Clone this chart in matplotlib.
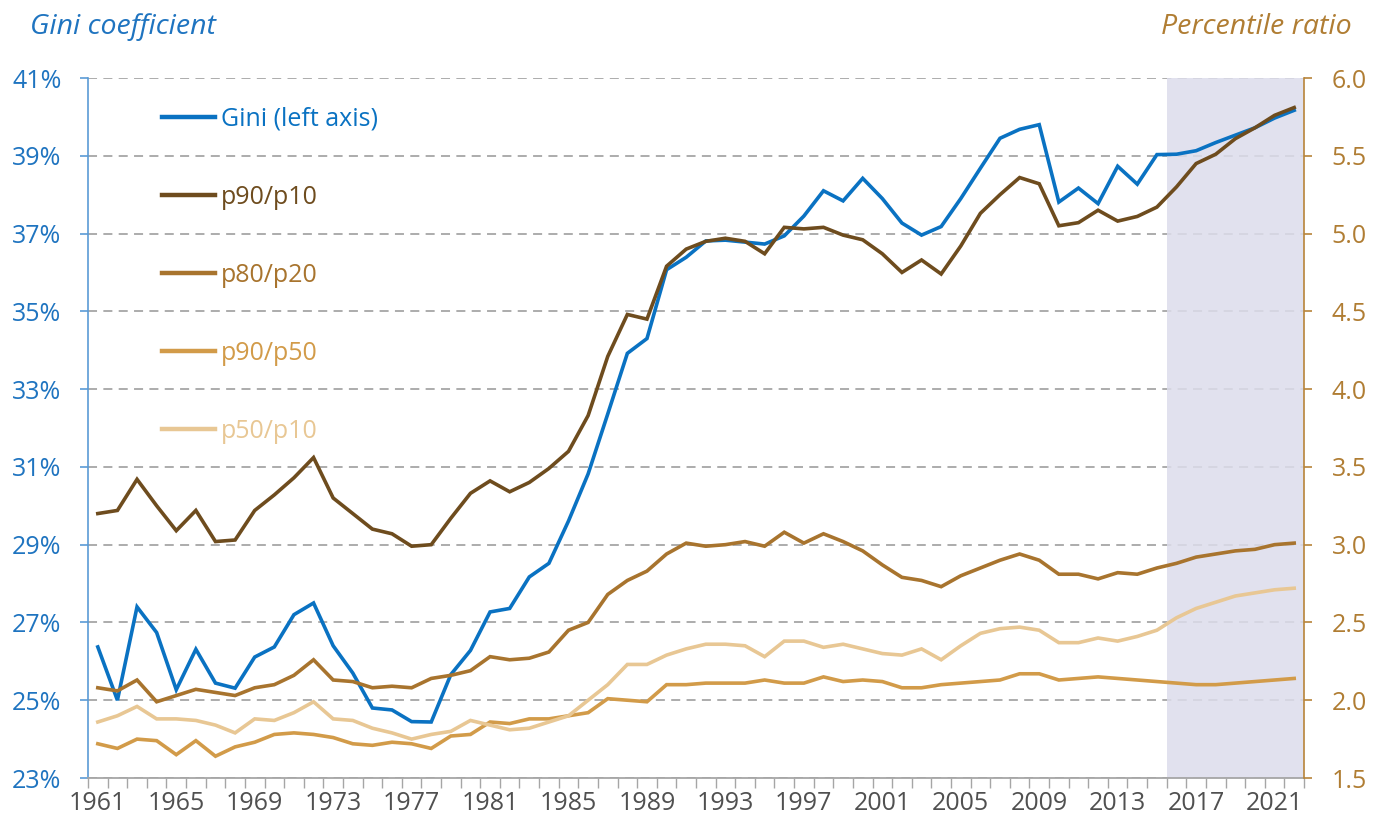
import matplotlib
matplotlib.use("Agg")
import matplotlib.pyplot as plt
from matplotlib.lines import Line2D
from matplotlib.ticker import FixedLocator, FuncFormatter

plt.rcParams["font.family"] = ["Open Sans", "DejaVu Sans"]

years = list(range(1961, 2023))

gini = [
    26.37, 25.00, 27.40, 26.74, 25.27, 26.31, 25.44, 25.31, 26.11, 26.37,
    27.20, 27.50, 26.40, 25.70, 24.80, 24.75, 24.45, 24.44, 25.66, 26.28,
    27.27, 27.36, 28.17, 28.52, 29.61, 30.82, 32.36, 33.92, 34.30, 36.07,
    36.39, 36.81, 36.83, 36.78, 36.73, 36.94, 37.45, 38.10, 37.84, 38.42,
    37.90, 37.27, 36.96, 37.18, 37.90, 38.68, 39.45, 39.68, 39.80, 37.81,
    38.17, 37.77, 38.73, 38.27, 39.03, 39.04, 39.13, 39.34, 39.53, 39.72,
    39.97, 40.17,
]

p90_p10 = [
    3.20, 3.22, 3.42, 3.25, 3.09, 3.22, 3.02, 3.03, 3.22, 3.32,
    3.43, 3.56, 3.30, 3.20, 3.10, 3.07, 2.99, 3.00, 3.17, 3.33,
    3.41, 3.34, 3.40, 3.49, 3.60, 3.83, 4.21, 4.48, 4.45, 4.79,
    4.90, 4.95, 4.97, 4.95, 4.87, 5.04, 5.03, 5.04, 4.99, 4.96,
    4.87, 4.75, 4.83, 4.74, 4.92, 5.13, 5.25, 5.36, 5.32, 5.05,
    5.07, 5.15, 5.08, 5.11, 5.17, 5.30, 5.45, 5.51, 5.61, 5.68,
    5.76, 5.81,
]

p80_p20 = [
    2.08, 2.06, 2.13, 1.99, 2.03, 2.07, 2.05, 2.03, 2.08, 2.10,
    2.16, 2.26, 2.13, 2.12, 2.08, 2.09, 2.08, 2.14, 2.16, 2.19,
    2.28, 2.26, 2.27, 2.31, 2.45, 2.50, 2.68, 2.77, 2.83, 2.94,
    3.01, 2.99, 3.00, 3.02, 2.99, 3.08, 3.01, 3.07, 3.02, 2.96,
    2.87, 2.79, 2.77, 2.73, 2.80, 2.85, 2.90, 2.94, 2.90, 2.81,
    2.81, 2.78, 2.82, 2.81, 2.85, 2.88, 2.92, 2.94, 2.96, 2.97,
    3.00, 3.01,
]

p90_p50 = [
    1.72, 1.69, 1.75, 1.74, 1.65, 1.74, 1.64, 1.70, 1.73, 1.78,
    1.79, 1.78, 1.76, 1.72, 1.71, 1.73, 1.72, 1.69, 1.77, 1.78,
    1.86, 1.85, 1.88, 1.88, 1.90, 1.92, 2.01, 2.00, 1.99, 2.10,
    2.10, 2.11, 2.11, 2.11, 2.13, 2.11, 2.11, 2.15, 2.12, 2.13,
    2.12, 2.08, 2.08, 2.10, 2.11, 2.12, 2.13, 2.17, 2.17, 2.13,
    2.14, 2.15, 2.14, 2.13, 2.12, 2.11, 2.10, 2.10, 2.11, 2.12,
    2.13, 2.14,
]

p50_p10 = [
    1.86, 1.90, 1.96, 1.88, 1.88, 1.87, 1.84, 1.79, 1.88, 1.87,
    1.92, 1.99, 1.88, 1.87, 1.82, 1.79, 1.75, 1.78, 1.80, 1.87,
    1.84, 1.81, 1.82, 1.86, 1.90, 2.00, 2.10, 2.23, 2.23, 2.29,
    2.33, 2.36, 2.36, 2.35, 2.28, 2.38, 2.38, 2.34, 2.36, 2.33,
    2.30, 2.29, 2.33, 2.26, 2.35, 2.43, 2.46, 2.47, 2.45, 2.37,
    2.37, 2.40, 2.38, 2.41, 2.45, 2.53, 2.59, 2.63, 2.67, 2.69,
    2.71, 2.72,
]

projection_start = 2016

gini_ticks = [23, 25, 27, 29, 31, 33, 35, 37, 39, 41]
ratio_ticks = [1.5, 2.0, 2.5, 3.0, 3.5, 4.0, 4.5, 5.0, 5.5, 6.0]
year_labels = list(range(1961, 2023, 4))

BLUE = "#0A72C2"
BLUE_TXT = "#1F74C0"
GOLD_TXT = "#B07D33"
ratio_series = [
    ("p90/p10", p90_p10, "#6E4C1E"),
    ("p80/p20", p80_p20, "#A8742E"),
    ("p90/p50", p90_p50, "#D29B49"),
    ("p50/p10", p50_p10, "#E8C794"),
]

fig = plt.figure(figsize=(13.84, 8.23), dpi=100)
ax = fig.add_axes([88 / 1384, 45 / 823, 1216 / 1384, 700 / 823])
ax2 = ax.twinx()

x = list(range(len(years)))
ax.set_xlim(-0.5, len(years) - 0.5)
ax.set_ylim(23, 41)
ax2.set_ylim(1.5, 6.0)

# shaded projection period
ax.axvspan(years.index(projection_start) - 0.5, len(years) - 0.5,
           color="#DCDCEB", alpha=0.85, lw=0, zorder=1)

ax.set_axisbelow(True)
ax.yaxis.grid(True, color="#A6A6A6", ls=(0, (5, 3.5)), lw=1.3, zorder=0)

ax.plot(x, gini, color=BLUE, lw=2.6, zorder=3, solid_joinstyle="miter")
handles = [Line2D([], [], color=BLUE, lw=3.2)]
labels = ["Gini (left axis)"]
for name, vals, col in ratio_series:
    ax2.plot(x, vals, color=col, lw=2.6, zorder=3, solid_joinstyle="miter")
    handles.append(Line2D([], [], color=col, lw=3.2))
    labels.append(name)

# left axis
ax.set_yticks(gini_ticks)
ax.yaxis.set_major_formatter(FuncFormatter(lambda v, _: f"{v:.0f}%"))
ax.tick_params(axis="y", colors="#5B9BD5", labelcolor=BLUE_TXT, labelsize=18,
               length=6, width=1.2, pad=13, direction="out")
ax.spines["left"].set_color("#5B9BD5")
ax.spines["left"].set_linewidth(1.2)

# right axis
ax2.set_yticks(ratio_ticks)
ax2.yaxis.set_major_formatter(FuncFormatter(lambda v, _: f"{v:.1f}"))
ax2.tick_params(axis="y", colors="#B8843A", labelcolor=GOLD_TXT, labelsize=18,
                length=6, width=1.2, pad=14, direction="out")
ax2.spines["right"].set_color("#B8843A")
ax2.spines["right"].set_linewidth(1.2)

# category style x axis
ax.xaxis.set_major_locator(FixedLocator([years.index(y) for y in year_labels]))
ax.set_xticklabels([str(y) for y in year_labels])
ax.xaxis.set_minor_locator(FixedLocator([i - 0.5 for i in range(len(years) + 1)]))
ax.tick_params(axis="x", which="major", length=0, labelsize=18,
               labelcolor="#505050", pad=9)
ax.tick_params(axis="x", which="minor", length=7, width=1.0, color="#A6A6A6")
ax.spines["bottom"].set_color("#A6A6A6")
ax.spines["bottom"].set_linewidth(1.3)

for a in (ax, ax2):
    a.spines["top"].set_visible(False)
ax2.spines["left"].set_visible(False)
ax2.spines["bottom"].set_visible(False)
ax.spines["right"].set_visible(False)

leg = ax2.legend(handles, labels, loc="upper left",
                 bbox_to_anchor=((162 - 88) / 1216, (778 - 107) / 700),
                 frameon=False, fontsize=18, handlelength=2.1,
                 handletextpad=0.25, labelspacing=2.12, borderpad=0,
                 borderaxespad=0, labelcolor="linecolor")

fig.text(30 / 1384, 1 - 27 / 823, "Gini coefficient", color=BLUE_TXT,
         fontsize=20.5, style="italic", ha="left", va="center")
fig.text(1352 / 1384, 1 - 27 / 823, "Percentile ratio", color=GOLD_TXT,
         fontsize=20.5, style="italic", ha="right", va="center")

fig.savefig("out.png", dpi=100)
